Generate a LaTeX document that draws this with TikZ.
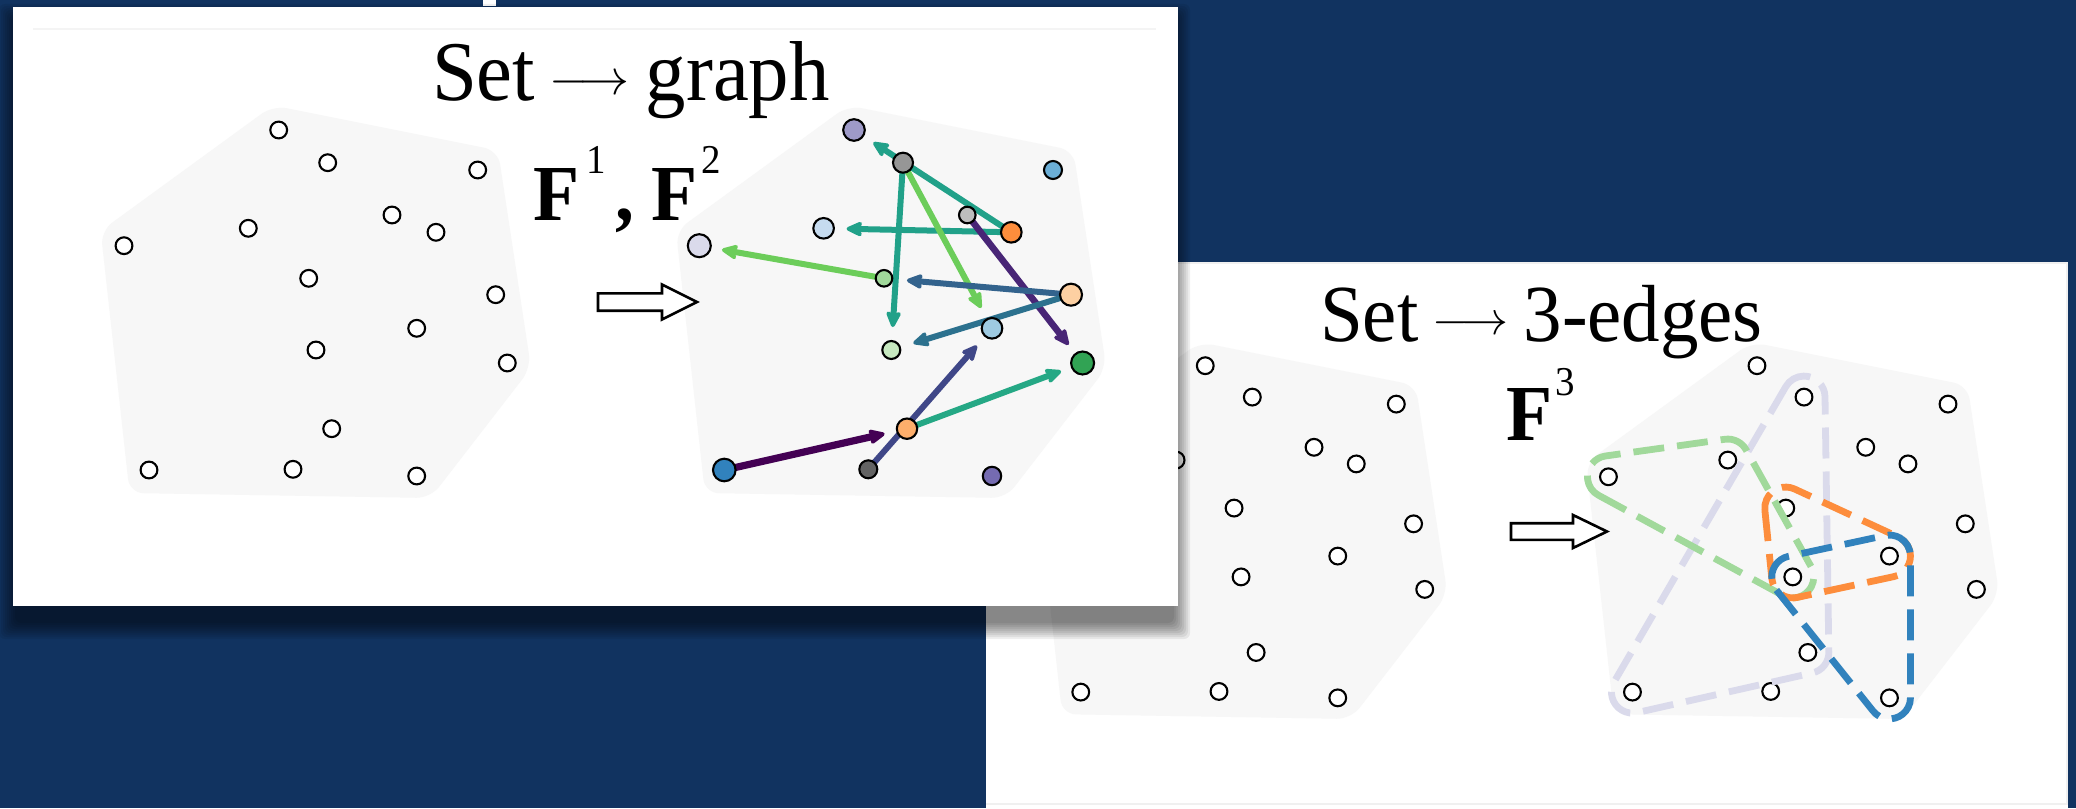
\documentclass[tikz,border=0pt]{standalone}
\usepackage{fontspec}
\setmainfont{Liberation Serif}[FakeStretch=0.95]
\usepackage{graphicx}
\usetikzlibrary{arrows.meta,calc}
\definecolor{navy}{RGB}{17,51,96}
\definecolor{hullgray}{RGB}{247,247,247}
\definecolor{gc1}{HTML}{9E9AC8}
\definecolor{gc2}{HTML}{969696}
\definecolor{gc3}{HTML}{6BAED6}
\definecolor{gc4}{HTML}{C6DBEF}
\definecolor{gc5}{HTML}{BDBDBD}
\definecolor{gc6}{HTML}{FD8D3C}
\definecolor{gc7}{HTML}{DADAEB}
\definecolor{gc8}{HTML}{A1D99B}
\definecolor{gc9}{HTML}{FDD0A2}
\definecolor{gc10}{HTML}{9ECAE1}
\definecolor{gc11}{HTML}{C7E9C0}
\definecolor{gc12}{HTML}{31A354}
\definecolor{gc13}{HTML}{FDAE6B}
\definecolor{gc14}{HTML}{3182BD}
\definecolor{gc15}{HTML}{636363}
\definecolor{gc16}{HTML}{756BB1}
\definecolor{eteal}{HTML}{21A189}
\definecolor{eteal2}{HTML}{25A885}
\definecolor{egreen}{HTML}{6CCD5A}
\definecolor{epurple}{HTML}{482576}
\definecolor{esteel}{HTML}{33638D}
\definecolor{eblue}{HTML}{2C718E}
\definecolor{eindigo}{HTML}{3F4788}
\definecolor{eviolet}{HTML}{440154}
\pgfdeclarelayer{back}
\pgfdeclarelayer{edges}
\pgfsetlayers{back,edges,main}
\tikzset{
  setpt/.style={circle, draw=black, fill=white, line width=1.05pt, minimum size=8.4pt, inner sep=0pt},
  gpt/.style={circle, draw=black, line width=1.05pt, inner sep=0pt},
  hull/.style={fill=hullgray, rounded corners=7pt},
  gedge/.style={line width=3pt, shorten >=11.5pt, -{Stealth[length=10pt,width=9pt,inset=2.2pt,round]}},
  hedge/.style={line width=3.4pt, dash pattern=on 15.5pt off 6.5pt},
  openarr/.style={draw=black, fill=white, line width=1.3pt, line join=miter},
  ttl/.style={anchor=base west, inner sep=0pt},
}
\def\ptlist{278.7/130, 327.7/162.7, 477.7/170, 248.3/228.3, 392/215, 436/232.3, 124/245.7, 308.7/278.3, 495.7/294.7, 416.7/328.3, 316/350, 507.3/363, 331.7/428.7, 149/470, 293/469.3, 416.7/476}
\newcommand\hyedge[4]{%
  \draw[hedge,#4] let \p1=(#1), \p2=(#2), \p3=(#3),
    \n1={atan2(\y2-\y1,\x2-\x1)},
    \n2={atan2(\y3-\y2,\x3-\x2)},
    \n3={atan2(\y1-\y3,\x1-\x3)} in
    ($(\p1)+({\n1-90}:10.5pt)$) -- ($(\p2)+({\n1-90}:10.5pt)$)
    arc[start angle=\n1-90, delta angle={mod(\n2-\n1+720,360)}, radius=10.5pt]
    -- ($(\p3)+({\n2-90}:10.5pt)$)
    arc[start angle=\n2-90, delta angle={mod(\n3-\n2+720,360)}, radius=10.5pt]
    -- ($(\p1)+({\n3-90}:10.5pt)$)
    arc[start angle=\n3-90, delta angle={mod(\n1-\n3+720,360)}, radius=10.5pt] -- cycle;%
}
\begin{document}
\begin{tikzpicture}[x=0.5pt, y=-0.5pt]
\useasboundingbox (0,0) rectangle (2076,808);
\begin{pgfonlayer}{back}
  \fill[navy] (0,0) rectangle (2076,808);
  \fill[white] (483,0) rectangle (496,6);
  % right panel
  \fill[white] (986,262) rectangle (2068,808);
  \draw[gray!12, line width=1pt] (986,263) -- (2067,263) -- (2067,804) -- (986,804);
  % hulls 3 and 4
  \foreach \sx in {937.7,1489.4}{
    \begin{scope}[shift={(\sx,240.9)}, scale=0.96]
      \fill[hull] (273,105.5) -- (498,150.5) -- (531,368) -- (430.5,498) -- (129.6,493) -- (100.7,231) -- cycle;
    \end{scope}
  }
  \begin{scope}[shift={(937.7,240.9)}, scale=0.96]
    \foreach \x/\y [count=\i] in \ptlist \node[setpt] (c\i) at (\x,\y) {};
  \end{scope}
  \begin{scope}[shift={(1489.4,240.9)}, scale=0.96]
    \foreach \x/\y [count=\i] in \ptlist \node[setpt] (d\i) at (\x,\y) {};
  \end{scope}
  % hyperedges
  \hyedge{d2}{d14}{d13}{gc7}
  \hyedge{d7}{d11}{d4}{gc8}
  \hyedge{d8}{d11}{d10}{gc6}
  \hyedge{d11}{d16}{d10}{gc14}
  % right open arrow
  \draw[openarr] (1511,523.2) -- (1573,523.2) -- (1573,515) -- (1607,531.5) -- (1573,548) -- (1573,539.8) -- (1511,539.8) -- cycle;
  % shadow of the left panel
  \foreach \r in {2,4,...,18}
    \fill[black, opacity=0.065, rounded corners=3pt] ({17-\r},{22-\r}) rectangle ({1172+\r},{621+\r});
  % left panel
  \fill[white] (13,7) rectangle (1178,606);
  \draw[gray!9, line width=0.6pt] (33,29) -- (1156,29);
  \foreach \sx in {0,575.3}{
    \begin{scope}[shift={(\sx,0)}]
      \fill[hull] (273,105.5) -- (498,150.5) -- (531,368) -- (430.5,498) -- (129.6,493) -- (100.7,231) -- cycle;
    \end{scope}
  }
  \draw[openarr] (598,293.3) -- (662,293.3) -- (662,284.5) -- (697,302) -- (662,319.5) -- (662,310.7) -- (598,310.7) -- cycle;
\end{pgfonlayer}
% set points, left hull
\foreach \x/\y [count=\i] in \ptlist \node[setpt] (a\i) at (\x,\y) {};
% graph points
\begin{scope}[shift={(575.3,0)}]
  \foreach \x/\y/\s [count=\i] in {278.7/130/10.8, 327.7/162.7/10, 477.7/170/9, 248.3/228.3/10.3, 392/215/8.3, 436/232.3/10.3, 124/245.7/11.5, 308.7/278.3/8.3, 495.7/294.7/11, 416.7/328.3/10.3, 316/350/9, 507.3/363/11.5, 331.7/428.7/10.2, 149/470/11.3, 293/469.3/9, 416.7/476/9.2}
    \node[gpt, fill=gc\i, minimum size=\s pt] (g\i) at (\x,\y) {};
\end{scope}
\begin{pgfonlayer}{edges}
  \draw[gedge, eteal] (g6.center) -- (g1.center);
  \draw[gedge, eteal] (g6.center) -- (g4.center);
  \draw[gedge, eteal] (g2.center) -- (g11.center);
  \draw[gedge, egreen] (g2.center) -- (g10.center);
  \draw[gedge, egreen] (g8.center) -- (g7.center);
  \draw[gedge, epurple, line width=3.3pt] (g5.center) -- (g12.center);
  \draw[gedge, esteel] (g9.center) -- (g8.center);
  \draw[gedge, eblue] (g9.center) -- (g11.center);
  \draw[gedge, eindigo] (g15.center) -- (g10.center);
  \draw[gedge, eteal2] (g13.center) -- (g12.center);
  \draw[gedge, eviolet, line width=3.6pt] (g14.center) -- (g13.center);
\end{pgfonlayer}
% titles
\node[ttl] (t1) at (431.6,101) {\fontsize{42.5}{46}\selectfont Set\hspace{7pt}\raisebox{3pt}{\scalebox{2.5}{\fontsize{10}{12}\selectfont$\longrightarrow$}}\hspace{8pt}graph};
\node[ttl] (f12) at (533,220) {\fontsize{39.7}{42}\selectfont\textbf{F}\hspace{3.3pt}\raisebox{23.5pt}{\fontsize{20.5}{22}\selectfont 1}\hspace{4.9pt}\textbf{,}\hspace{8.5pt}\textbf{F}\hspace{2pt}\raisebox{23.5pt}{\fontsize{20.5}{22}\selectfont 2}};
\node[ttl] (t2) at (1319.7,341) {\fontsize{40.5}{44}\selectfont Set\hspace{7.2pt}\raisebox{3.5pt}{\scalebox{2.35}{\fontsize{10}{12}\selectfont$\longrightarrow$}}\hspace{7.5pt}3-edges};
\node[ttl] (f3) at (1506,440) {\fontsize{39.7}{42}\selectfont\textbf{F}\hspace{1.7pt}\raisebox{22.5pt}{\fontsize{20.5}{22}\selectfont 3}};
\end{tikzpicture}
\end{document}
